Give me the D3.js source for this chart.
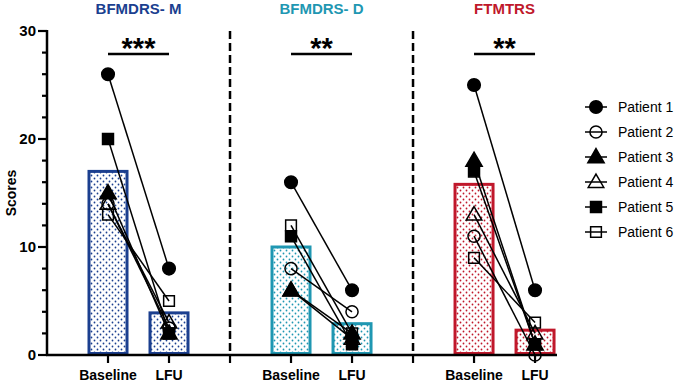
<!DOCTYPE html>
<html>
<head>
<meta charset="utf-8">
<script src="https://cdn.jsdelivr.net/npm/d3@7"></script>
<style>
  body { margin: 0; background: #fff; }
  svg { display: block; font-family: "Liberation Sans", Arial, sans-serif; }
</style>
</head>
<body>
<svg id="chart" width="676" height="382"></svg>
<script>
const panels = ['BFMDRS- M', 'BFMDRS- D', 'FTMTRS']
const panelColors = ['#1b3f8f', '#1f97b2', '#c0182b']
const timepoints = ['Baseline', 'LFU']
const patients = ['Patient 1', 'Patient 2', 'Patient 3', 'Patient 4', 'Patient 5', 'Patient 6']
// scores per panel, one per patient
const baseline = [
  [26, 14, 15, 14, 20, 13],
  [16, 8, 6, 6, 11, 12],
  [25, 11, 18, 13, 17, 9]
]
const lfu = [
  [8, 2.5, 2, 3, 2, 5],
  [6, 4, 2, 1.5, 1, 2],
  [6, 0, 1, 2, 1, 3]
]
const barMeans = [[17, 3.9], [10, 2.9], [15.8, 2.3]]
const stars = ['***', '**', '**']
const yTicks = [0, 10, 20, 30]

const svg = d3.select('#chart')

const y = d3.scaleLinear().domain([0, 30]).range([355, 31])
// slot positions: each panel takes 3 slots, separators at 3 and 6
const x = d3.scaleLinear().domain([0, 8.36]).range([47, 557])
const slot = (p, t) => p * 3 + 1 + t

// dotted fill patterns
const defs = svg.append('defs')
panelColors.forEach((c, i) => {
  const pat = defs.append('pattern')
    .attr('id', 'dots-' + i)
    .attr('patternUnits', 'userSpaceOnUse')
    .attr('width', 6).attr('height', 6)
  pat.append('rect').attr('width', 6).attr('height', 6).style('fill', '#fff')
  pat.append('circle').attr('cx', 1.5).attr('cy', 1.5).attr('r', 0.9).style('fill', c)
  pat.append('circle').attr('cx', 4.5).attr('cy', 4.5).attr('r', 0.9).style('fill', c)
})

// bars
panels.forEach((name, p) => {
  svg.selectAll('.bar-' + p)
    .data(barMeans[p])
    .enter()
    .append('rect')
    .attr('x', (d, t) => x(slot(p, t)) - 19)
    .attr('width', 38)
    .attr('y', d => y(d))
    .attr('height', d => y(0) - y(d) - 1.5)
    .style('fill', `url(#dots-${p})`)
    .style('stroke', panelColors[p])
    .style('stroke-width', 3)
})

// axes
const yAxis = svg.append('g')
yAxis.append('line')
  .attr('x1', x(0)).attr('x2', x(0))
  .attr('y1', y(30) - 1).attr('y2', y(0) + 1)
  .style('stroke', '#000').style('stroke-width', 2.5)
yAxis.selectAll('.minor')
  .data(d3.range(0, 31, 2))
  .enter()
  .append('line')
  .attr('x1', d => yTicks.includes(d) ? x(0) - 9 : x(0) - 5)
  .attr('x2', x(0))
  .attr('y1', d => y(d)).attr('y2', d => y(d))
  .style('stroke', '#000').style('stroke-width', 2.2)
yAxis.selectAll('.lab')
  .data(yTicks)
  .enter()
  .append('text')
  .attr('x', x(0) - 11)
  .attr('y', d => y(d) + 5)
  .attr('text-anchor', 'end')
  .style('font-size', '15px')
  .style('font-weight', '700')
  .text(d => d)

svg.append('text')
  .attr('transform', `translate(16,${y(15)}) rotate(-90)`)
  .attr('text-anchor', 'middle')
  .style('font-size', '14px')
  .style('font-weight', '700')
  .text('Scores')

svg.append('line')
  .attr('x1', x(0) - 1).attr('x2', x(8.36))
  .attr('y1', y(0)).attr('y2', y(0))
  .style('stroke', '#000').style('stroke-width', 2.5)

// x ticks and separators
const xTicks = d3.range(1, 9)
svg.selectAll('.xt')
  .data(xTicks)
  .enter()
  .append('line')
  .attr('x1', d => x(d)).attr('x2', d => x(d))
  .attr('y1', y(0)).attr('y2', y(0) + 8)
  .style('stroke', '#000').style('stroke-width', 2.2)

svg.selectAll('.sep')
  .data([3, 6])
  .enter()
  .append('line')
  .attr('x1', d => x(d)).attr('x2', d => x(d))
  .attr('y1', y(30)).attr('y2', y(0))
  .style('stroke', '#000').style('stroke-width', 2.5)
  .style('stroke-dasharray', '8,4')

panels.forEach((name, p) => {
  svg.selectAll('.xl-' + p)
    .data(timepoints)
    .enter()
    .append('text')
    .attr('x', (d, t) => x(slot(p, t)))
    .attr('y', 380)
    .attr('text-anchor', 'middle')
    .style('font-size', '14px')
    .style('font-weight', '700')
    .text(d => d)

  const mid = (x(slot(p, 0)) + x(slot(p, 1))) / 2
  svg.append('text')
    .attr('x', mid)
    .attr('y', 14)
    .attr('text-anchor', 'middle')
    .style('font-size', '15px')
    .style('font-weight', '700')
    .style('fill', panelColors[p])
    .text(name)

  svg.append('line')
    .attr('x1', x(slot(p, 0))).attr('x2', x(slot(p, 1)))
    .attr('y1', 54).attr('y2', 54)
    .style('stroke', '#000').style('stroke-width', 2.5)
  svg.append('text')
    .attr('x', mid)
    .attr('y', 58)
    .attr('text-anchor', 'middle')
    .style('font-size', '29px')
    .style('font-weight', '700')
    .text(stars[p])
})

// patient symbols
const symTypes = [d3.symbolCircle, d3.symbolCircle, d3.symbolTriangle, d3.symbolTriangle, d3.symbolSquare, d3.symbolSquare]
const symSizes = [125, 115, 115, 105, 120, 115]
const filled = [true, false, true, false, true, false]
const sym = i => d3.symbol().type(symTypes[i]).size(symSizes[i])()

// connecting lines first, then markers
panels.forEach((name, p) => {
  svg.selectAll('.pl-' + p)
    .data(patients)
    .enter()
    .append('line')
    .attr('x1', x(slot(p, 0))).attr('x2', x(slot(p, 1)))
    .attr('y1', (d, i) => y(baseline[p][i]))
    .attr('y2', (d, i) => y(lfu[p][i]))
    .style('stroke', '#000').style('stroke-width', 1.5)
})

panels.forEach((name, p) => {
  const pts = []
  patients.forEach((d, i) => {
    pts.push({ i, t: 0, v: baseline[p][i] })
    pts.push({ i, t: 1, v: lfu[p][i] })
  })
  pts.sort((a, b) => (b.i - a.i))
  svg.selectAll('.pt-' + p)
    .data(pts)
    .enter()
    .append('path')
    .attr('d', d => sym(d.i))
    .attr('transform', d => `translate(${x(slot(p, d.t))},${y(d.v) + (symTypes[d.i] === d3.symbolTriangle ? 1 : 0)})`)
    .style('fill', d => filled[d.i] ? '#000' : 'none')
    .style('stroke', '#000')
    .style('stroke-width', 1.5)
})

// legend
const legend = svg.append('g').attr('transform', 'translate(596,107)')
const rows = legend.selectAll('.row')
  .data(patients)
  .enter()
  .append('g')
  .attr('transform', (d, i) => `translate(0,${i * 25})`)
rows.append('line')
  .attr('x1', -11).attr('x2', 11)
  .style('stroke', '#000').style('stroke-width', 1.5)
rows.append('path')
  .attr('d', (d, i) => sym(i))
  .attr('transform', (d, i) => symTypes[i] === d3.symbolTriangle ? 'translate(0,1)' : null)
  .style('fill', (d, i) => filled[i] ? '#000' : 'none')
  .style('stroke', '#000')
  .style('stroke-width', 1.5)
rows.append('text')
  .attr('x', 22)
  .attr('y', 5)
  .style('font-size', '14px')
  .text(d => d)
</script>
</body>
</html>
